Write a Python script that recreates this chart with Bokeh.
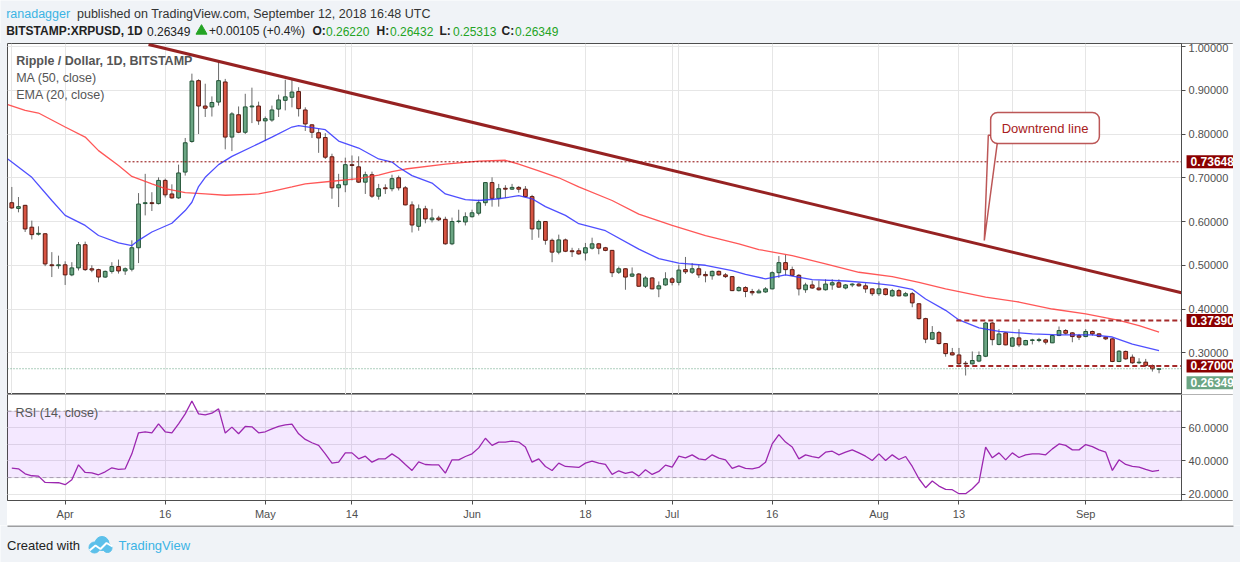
from bokeh.plotting import figure
from bokeh.layouts import column, row
from bokeh.models import (Range1d, FixedTicker, Grid, Label, BoxAnnotation, Div,
                          LinearAxis, NumeralTickFormatter, ColumnDataSource)
from bokeh.embed import file_html
from bokeh.resources import INLINE
from bokeh.core.properties import value

FONT = "Liberation Sans"
PAGE_BG = "#f0f3f7"
FRAME = "#4d4d4d"
GRID = "#e6e6e6"
AXIS_TXT = "#4f4f4f"
UP_FILL, UP_LINE = "#6ba583", "#225437"
DOWN_FILL, DOWN_LINE = "#d75442", "#5b1a13"
TREND = "#8b0a0a"

# daily candles XRP/USD, index 0 = 2018-03-24 ... index 172 = 2018-09-12
opens = [0.643, 0.630, 0.637, 0.587, 0.571, 0.572, 0.501, 0.499, 0.501, 0.478,
         0.494, 0.547, 0.492, 0.490, 0.473, 0.486, 0.497, 0.487, 0.491, 0.540,
         0.641, 0.643, 0.641, 0.694, 0.663, 0.654, 0.713, 0.783, 0.922, 0.864,
         0.862, 0.873, 0.919, 0.793, 0.844, 0.804, 0.862, 0.864, 0.830, 0.832,
         0.857, 0.877, 0.884, 0.897, 0.855, 0.821, 0.803, 0.792, 0.748, 0.677,
         0.684, 0.730, 0.725, 0.690, 0.707, 0.658, 0.677, 0.675, 0.700, 0.677,
         0.638, 0.589, 0.629, 0.604, 0.608, 0.605, 0.549, 0.600, 0.599, 0.611,
         0.619, 0.643, 0.689, 0.653, 0.676, 0.674, 0.678, 0.674, 0.657, 0.583,
         0.600, 0.557, 0.530, 0.558, 0.533, 0.533, 0.528, 0.539, 0.549, 0.540,
         0.534, 0.484, 0.492, 0.475, 0.480, 0.452, 0.471, 0.446, 0.455, 0.469,
         0.461, 0.490, 0.484, 0.492, 0.479, 0.476, 0.486, 0.478, 0.474, 0.442,
         0.449, 0.440, 0.437, 0.439, 0.446, 0.483, 0.506, 0.490, 0.477, 0.444,
         0.455, 0.448, 0.444, 0.455, 0.460, 0.448, 0.455, 0.457, 0.453, 0.446,
         0.435, 0.446, 0.430, 0.442, 0.430, 0.435, 0.412, 0.378, 0.331, 0.346,
         0.321, 0.300, 0.295, 0.276, 0.2747, 0.281, 0.292, 0.368, 0.319, 0.3455,
         0.315, 0.334, 0.318, 0.328, 0.328, 0.3295, 0.3227, 0.3394, 0.3508, 0.3455,
         0.339, 0.337, 0.3486, 0.3432, 0.3356, 0.3318, 0.280, 0.303, 0.2899, 0.277,
         0.2785, 0.2709, 0.26220]
highs = [0.679, 0.656, 0.638, 0.602, 0.589, 0.573, 0.530, 0.522, 0.509, 0.507,
         0.553, 0.554, 0.500, 0.492, 0.488, 0.507, 0.513, 0.495, 0.557, 0.665,
         0.709, 0.667, 0.701, 0.698, 0.685, 0.730, 0.791, 0.938, 0.925, 0.915,
         0.886, 0.964, 0.926, 0.850, 0.863, 0.892, 0.906, 0.874, 0.840, 0.865,
         0.890, 0.924, 0.924, 0.907, 0.861, 0.822, 0.812, 0.802, 0.755, 0.709,
         0.746, 0.751, 0.749, 0.714, 0.714, 0.686, 0.685, 0.707, 0.705, 0.681,
         0.646, 0.639, 0.636, 0.629, 0.613, 0.611, 0.609, 0.627, 0.621, 0.627,
         0.650, 0.690, 0.701, 0.686, 0.683, 0.686, 0.681, 0.681, 0.661, 0.604,
         0.601, 0.561, 0.570, 0.561, 0.540, 0.539, 0.551, 0.563, 0.551, 0.542,
         0.535, 0.497, 0.493, 0.495, 0.482, 0.475, 0.473, 0.463, 0.484, 0.473,
         0.501, 0.519, 0.505, 0.502, 0.486, 0.488, 0.488, 0.482, 0.475, 0.452,
         0.452, 0.446, 0.446, 0.450, 0.486, 0.521, 0.524, 0.497, 0.480, 0.460,
         0.465, 0.465, 0.468, 0.468, 0.468, 0.457, 0.459, 0.460, 0.459, 0.447,
         0.463, 0.447, 0.446, 0.446, 0.439, 0.439, 0.413, 0.380, 0.361, 0.350,
         0.322, 0.311, 0.311, 0.281, 0.303, 0.303, 0.370, 0.370, 0.354, 0.347,
         0.336, 0.354, 0.3295, 0.332, 0.334, 0.332, 0.341, 0.360, 0.354, 0.347,
         0.343, 0.354, 0.3508, 0.3447, 0.337, 0.333, 0.306, 0.305, 0.296, 0.2876,
         0.286, 0.2732, 0.26432]
lows = [0.629, 0.621, 0.576, 0.559, 0.568, 0.498, 0.473, 0.492, 0.455, 0.475,
        0.488, 0.487, 0.484, 0.461, 0.471, 0.481, 0.481, 0.478, 0.486, 0.505,
        0.614, 0.624, 0.639, 0.655, 0.652, 0.652, 0.705, 0.780, 0.800, 0.839,
        0.840, 0.865, 0.765, 0.761, 0.802, 0.800, 0.825, 0.821, 0.784, 0.828,
        0.839, 0.854, 0.861, 0.840, 0.807, 0.791, 0.757, 0.743, 0.652, 0.633,
        0.667, 0.694, 0.688, 0.663, 0.654, 0.650, 0.663, 0.669, 0.671, 0.637,
        0.575, 0.579, 0.596, 0.598, 0.601, 0.547, 0.546, 0.596, 0.591, 0.609,
        0.614, 0.636, 0.634, 0.634, 0.654, 0.672, 0.666, 0.655, 0.558, 0.563,
        0.547, 0.507, 0.525, 0.530, 0.519, 0.524, 0.511, 0.536, 0.525, 0.532,
        0.473, 0.480, 0.444, 0.473, 0.451, 0.448, 0.445, 0.427, 0.453, 0.454,
        0.454, 0.480, 0.480, 0.471, 0.461, 0.467, 0.476, 0.471, 0.441, 0.440,
        0.427, 0.431, 0.436, 0.437, 0.445, 0.471, 0.477, 0.475, 0.431, 0.437,
        0.446, 0.442, 0.442, 0.444, 0.448, 0.445, 0.450, 0.451, 0.437, 0.430,
        0.430, 0.431, 0.428, 0.429, 0.429, 0.404, 0.376, 0.322, 0.330, 0.319,
        0.291, 0.294, 0.271, 0.248, 0.273, 0.2785, 0.290, 0.317, 0.317, 0.317,
        0.314, 0.313, 0.317, 0.319, 0.324, 0.319, 0.322, 0.338, 0.3417, 0.324,
        0.329, 0.3356, 0.339, 0.3356, 0.329, 0.2785, 0.2785, 0.284, 0.2747, 0.2747,
        0.2671, 0.257, 0.25313]
closes = [0.631, 0.634, 0.583, 0.570, 0.573, 0.503, 0.499, 0.501, 0.478, 0.494,
          0.547, 0.490, 0.489, 0.473, 0.486, 0.497, 0.487, 0.492, 0.540, 0.640,
          0.643, 0.641, 0.694, 0.661, 0.654, 0.711, 0.780, 0.921, 0.864, 0.859,
          0.872, 0.922, 0.793, 0.846, 0.804, 0.862, 0.864, 0.830, 0.835, 0.855,
          0.878, 0.885, 0.896, 0.858, 0.823, 0.804, 0.791, 0.747, 0.677, 0.684,
          0.730, 0.728, 0.690, 0.707, 0.658, 0.675, 0.675, 0.698, 0.677, 0.638,
          0.592, 0.629, 0.606, 0.608, 0.604, 0.549, 0.600, 0.601, 0.611, 0.620,
          0.643, 0.689, 0.653, 0.675, 0.674, 0.678, 0.674, 0.657, 0.583, 0.600,
          0.557, 0.530, 0.558, 0.532, 0.531, 0.526, 0.540, 0.549, 0.539, 0.534,
          0.483, 0.492, 0.473, 0.480, 0.452, 0.471, 0.446, 0.453, 0.469, 0.461,
          0.489, 0.485, 0.492, 0.478, 0.476, 0.486, 0.478, 0.474, 0.442, 0.449,
          0.440, 0.437, 0.441, 0.446, 0.483, 0.506, 0.490, 0.477, 0.446, 0.455,
          0.448, 0.444, 0.457, 0.460, 0.450, 0.455, 0.457, 0.453, 0.446, 0.435,
          0.446, 0.433, 0.442, 0.430, 0.435, 0.414, 0.378, 0.331, 0.346, 0.321,
          0.298, 0.295, 0.275, 0.2747, 0.2823, 0.2937, 0.368, 0.330, 0.343, 0.318,
          0.334, 0.318, 0.328, 0.3295, 0.330, 0.3242, 0.3394, 0.3508, 0.3447, 0.337,
          0.3356, 0.3486, 0.3432, 0.337, 0.3318, 0.2801, 0.3036, 0.2861, 0.277, 0.2785,
          0.2709, 0.2633, 0.26349]

# MA (50) and EMA (20) at candle positions
ma_idx = [-0.6, 2, 4, 8, 11, 13, 16, 18, 21, 23, 26, 29, 32, 37, 39, 42, 44, 48, 52,
          55, 57, 59, 65, 70, 74, 76, 79, 82, 85, 90, 94, 99, 104, 109, 112, 117,
          122, 127, 132, 136, 140, 146, 151, 156, 161, 166, 169, 172]
ma_val = [0.867, 0.854, 0.848, 0.816, 0.793, 0.762, 0.728, 0.703, 0.686, 0.675, 0.666,
          0.663, 0.660, 0.663, 0.669, 0.679, 0.686, 0.692, 0.698, 0.706, 0.714, 0.720,
          0.731, 0.738, 0.740, 0.731, 0.716, 0.700, 0.679, 0.648, 0.617, 0.591, 0.568,
          0.549, 0.536, 0.522, 0.503, 0.484, 0.474, 0.461, 0.446, 0.427, 0.416, 0.400,
          0.389, 0.374, 0.362, 0.347]
ema_idx = [-0.6, 3, 6, 8, 11, 13, 16, 18, 19, 21, 24, 26, 27, 28, 29, 31, 33, 37, 39,
           42, 43, 47, 49, 52, 55, 57, 58, 60, 63, 65, 68, 70, 73, 76, 78, 80, 83, 85,
           89, 94, 97, 100, 104, 108, 110, 113, 116, 120, 125, 129, 132, 135, 137,
           140, 142, 145, 148, 153, 157, 162, 165, 168, 172]
ema_val = [0.743, 0.701, 0.648, 0.614, 0.591, 0.568, 0.551, 0.545, 0.557, 0.576, 0.596,
           0.625, 0.644, 0.680, 0.701, 0.730, 0.749, 0.778, 0.793, 0.816, 0.819, 0.810,
           0.784, 0.768, 0.743, 0.736, 0.724, 0.705, 0.688, 0.663, 0.650, 0.648, 0.652,
           0.659, 0.652, 0.634, 0.614, 0.595, 0.579, 0.537, 0.515, 0.505, 0.500, 0.488,
           0.479, 0.469, 0.478, 0.467, 0.464, 0.459, 0.454, 0.445, 0.423, 0.397, 0.375,
           0.357, 0.349, 0.343, 0.341, 0.341, 0.336, 0.320, 0.305]

# RSI (14) per candle
rsi = [35.7, 35.3, 32.3, 31.1, 30.9, 27.1, 27.0, 26.9, 25.7, 28.7,
       37.7, 33.1, 32.9, 31.7, 33.5, 35.9, 34.9, 35.3, 44.3, 57.0,
       57.6, 57.0, 62.4, 57.6, 57.0, 62.4, 68.4, 76.1, 68.4, 67.8,
       68.8, 71.4, 56.8, 60.4, 56.4, 60.8, 60.6, 57.0, 57.6, 59.4,
       60.8, 61.8, 62.2, 56.4, 53.0, 51.0, 49.4, 44.3, 38.7, 39.3,
       44.9, 44.9, 41.3, 42.9, 39.3, 41.3, 41.3, 44.3, 41.7, 37.9,
       34.3, 39.5, 37.9, 37.7, 37.7, 32.7, 40.7, 40.7, 42.7, 44.3,
       47.9, 53.7, 49.4, 51.4, 51.4, 52.0, 51.4, 48.4, 39.3, 41.3,
       36.7, 34.3, 38.7, 36.7, 36.5, 36.1, 38.7, 39.9, 38.7, 37.9,
       31.9, 34.1, 32.5, 33.5, 30.9, 34.7, 31.9, 33.7, 37.5, 36.3,
       42.9, 41.9, 43.7, 41.3, 40.7, 43.7, 41.7, 40.7, 35.5, 37.1,
       35.5, 35.3, 36.1, 39.3, 50.3, 55.9, 51.4, 48.4, 41.3, 43.7,
       42.7, 41.9, 45.3, 45.9, 43.7, 45.3, 46.7, 44.9, 42.9, 40.3,
       44.3, 40.3, 43.7, 40.9, 42.7, 36.7, 29.3, 23.9, 27.9, 24.9,
       22.9, 22.7, 20.3, 20.3, 23.3, 27.3, 48.4, 41.9, 44.9, 40.7,
       44.9, 42.1, 43.7, 44.3, 44.3, 43.7, 47.3, 50.3, 49.4, 46.7,
       46.7, 49.9, 48.7, 46.7, 45.3, 34.3, 40.7, 37.9, 36.7, 36.3,
       34.9, 33.7, 34.3]

date_ticks = [8, 23, 38, 51, 69, 86, 99, 114, 130, 142, 161]
date_labels = ["Apr", "16", "May", "14", "Jun", "18", "Jul", "16", "Aug", "13", "Sep"]
price_ticks = [0.3, 0.4, 0.5, 0.6, 0.7, 0.8, 0.9, 1.0]
rsi_ticks = [20, 40, 60]

# downtrend line end points (candle index, price)
trend_x = [20.5, 175.37]
trend_y = [1.0046, 0.4370]
resistance = 0.73648
range_top = 0.37390
range_bottom = 0.27000

X0, X1, XEND = -0.645, 175.37, 183.16   # frame left, price-axis line, outer border
PY0, PY1 = 0.2046, 1.0069
RY0, RY1 = 16.2, 80.06


def bare(fig):
    fig.xgrid.visible = False
    fig.ygrid.visible = False


def pad(h):
    return Div(text="", width=7, height=h, margin=0, styles={"background-color": PAGE_BG})


def style_axis(ax):
    ax.major_label_text_font = FONT
    ax.major_label_text_font_size = "11px"
    ax.major_label_text_color = AXIS_TXT
    ax.major_tick_out = 4
    ax.major_tick_in = 0
    ax.minor_tick_line_color = None
    ax.major_label_standoff = 3
    ax.axis_line_color = FRAME
    ax.major_tick_line_color = FRAME


def price_axis(fig, ticks, fmt):
    ax = LinearAxis(ticker=FixedTicker(ticks=ticks), formatter=NumeralTickFormatter(format=fmt),
                    fixed_location=X1)
    style_axis(ax)
    fig.add_layout(ax, "right")


# ---------------- header ----------------
header = figure(width=1240, height=43, x_range=Range1d(0, 1240), y_range=Range1d(43, 0),
                output_backend="svg", toolbar_location=None, x_axis_location=None,
                y_axis_location=None, min_border=0, outline_line_color=None,
                background_fill_color=PAGE_BG, border_fill_color=PAGE_BG, margin=0)
bare(header)


def htext(x, y, s, color="#222222", style="normal", size="12px"):
    header.text(x=[x], y=[y], text=[s], text_color=color, text_font=value(FONT),
                text_font_size=size, text_font_style=style,
                text_baseline="middle", text_align="left")


GREEN_TXT = "#24a324"
htext(5.7, 13, "ranadagger", color="#3bb3e4", size="12.5px")
htext(76.5, 13, "published on TradingView.com, September 12, 2018 16:48 UTC",
      color="#333333", size="12.5px")
htext(5.7, 30.5, "BITSTAMP:XRPUSD, 1D", style="bold")
htext(146.5, 30.5, f"{closes[-1]:.5f}")
header.scatter([201], [30.5], marker="triangle", size=11, color=GREEN_TXT)
htext(208.5, 30.5, "+0.00105 (+0.4%)")
for lx, key, val in [(312, "O:", opens[-1]), (376, "H:", highs[-1]),
                     (439, "L:", lows[-1]), (501, "C:", closes[-1])]:
    htext(lx, 30.5, key, style="bold")
    htext(lx + 13.5, 30.5, f"{val:.5f}", color=GREEN_TXT)

# ---------------- main price panel ----------------
p = figure(width=1226, height=351, x_range=Range1d(X0, XEND), y_range=Range1d(PY0, PY1),
           output_backend="svg", toolbar_location=None, x_axis_location=None,
           y_axis_location=None, min_border=0, outline_line_color=FRAME,
           background_fill_color="white", border_fill_color="white", margin=0)
p.add_layout(Grid(dimension=1, ticker=FixedTicker(ticks=price_ticks), grid_line_color=GRID))
p.add_layout(Grid(dimension=0, ticker=FixedTicker(ticks=date_ticks), grid_line_color=GRID))

idx = list(range(len(closes)))
up = [c >= o for o, c in zip(opens, closes)]
src = ColumnDataSource(dict(
    x=idx, high=highs, low=lows,
    top=[max(o, c) for o, c in zip(opens, closes)],
    bottom=[min(o, c) for o, c in zip(opens, closes)],
    fill=[UP_FILL if u else DOWN_FILL for u in up],
    line=[UP_LINE if u else DOWN_LINE for u in up],
))
p.segment(x0="x", y0="low", x1="x", y1="high", source=src, line_color="#6a6a6a", line_width=1)
p.vbar(x="x", width=0.56, top="top", bottom="bottom", source=src,
       fill_color="fill", line_color="line", line_width=1)
# price-scale strip
p.quad(left=[X1], right=[XEND], bottom=[PY0], top=[PY1], fill_color="white", line_color=None)

p.line(ma_idx, ma_val, line_color="#ff3a3a", line_width=1.3, line_alpha=0.85)
p.line(ema_idx, ema_val, line_color="#3030ff", line_width=1.3, line_alpha=0.85)

# levels
p.segment(x0=[16.9], y0=[resistance], x1=[X1], y1=[resistance],
          line_color="#8b0000", line_width=1, line_dash="2 2")
p.segment(x0=[141.6], y0=[range_top], x1=[X1], y1=[range_top],
          line_color="#a52a2a", line_width=2, line_dash="5 3")
p.segment(x0=[140.4], y0=[range_bottom], x1=[X1], y1=[range_bottom],
          line_color="#a52a2a", line_width=2, line_dash="5 3")
p.segment(x0=[X0], y0=[closes[-1]], x1=[X1], y1=[closes[-1]],
          line_color="#5e9e7c", line_width=1, line_dash="1 2")

# downtrend line
p.line(trend_x, trend_y, line_color=TREND, line_width=3, line_alpha=0.9)

# callout
p.patch([146.4, 147.9, 145.8], [0.797, 0.797, 0.5566], fill_color="white",
        line_color="#b03a3a", line_width=1.5, line_alpha=0.85)
p.add_layout(Label(x=154.9, y=0.8137, text="Downtrend line", text_align="center",
                   text_baseline="middle", text_color="#a82020", text_font=FONT,
                   text_font_size="13px", background_fill_color="white",
                   border_line_color="#b03a3a", border_line_width=1.5,
                   border_line_alpha=0.85, border_radius=7, padding=(11, 8)))

# legend texts
for ty, txt, st in [(0.9664, "Ripple / Dollar, 1D, BITSTAMP", "bold"),
                    (0.9275, "MA (50, close)", "normal"),
                    (0.8896, "EMA (20, close)", "normal")]:
    p.add_layout(Label(x=0.66, y=ty, text=txt, text_font=FONT, text_font_size="12.5px",
                       text_font_style=st, text_color="#555555", text_baseline="middle"))

price_axis(p, price_ticks, "0.00000")

# price tags on the scale
for lvl in [resistance, range_top, range_bottom]:
    p.add_layout(Label(x=X1, y=lvl, text=f"{lvl:.5f}", x_offset=5, text_font=FONT,
                       text_font_size="12px", text_font_style="bold", text_color="white",
                       text_baseline="middle", background_fill_color="#8b0000",
                       padding=(4, 2)))
p.add_layout(Label(x=X1, y=closes[-1], y_offset=-14, text=f"{closes[-1]:.5f}", x_offset=5,
                   text_font=FONT, text_font_size="12px", text_font_style="bold",
                   text_color="white", text_baseline="middle",
                   background_fill_color="#6ba583", padding=(4, 2)))

# ---------------- RSI panel ----------------
r = figure(width=1226, height=131, x_range=p.x_range, y_range=Range1d(RY0, RY1),
           output_backend="svg", toolbar_location=None, x_axis_location="below",
           y_axis_location=None, min_border=0, min_border_bottom=25,
           outline_line_color=FRAME, background_fill_color="white", border_fill_color="white",
           margin=0)
r.xaxis.ticker = FixedTicker(ticks=date_ticks)
r.xaxis.major_label_overrides = {t: lab for t, lab in zip(date_ticks, date_labels)}
r.xaxis.bounds = (X0, X1)
style_axis(r.xaxis[0])
r.xgrid.grid_line_color = GRID
r.add_layout(Grid(dimension=1, ticker=FixedTicker(ticks=rsi_ticks), grid_line_color=GRID))

r.add_layout(BoxAnnotation(bottom=30, top=70, fill_color="#8000ff", fill_alpha=0.09,
                           line_color=None, level="underlay"))
r.quad(left=[X1], right=[XEND], bottom=[RY0], top=[RY1], fill_color="white", line_color=None)
r.segment(x0=[X0, X0], y0=[70, 30], x1=[X1, X1], y1=[70, 30], line_color="#a69cb0",
          line_width=1, line_dash="4 3")
r.line(idx, rsi, line_color="#9c27b0", line_width=1.3)
r.add_layout(Label(x=0.55, y=68.8, text="RSI (14, close)", text_font=FONT,
                   text_font_size="12.5px", text_color="#555555", text_baseline="middle"))
price_axis(r, rsi_ticks, "0.0000")

# ---------------- footer ----------------
footer = figure(width=1240, height=37, x_range=Range1d(0, 1240), y_range=Range1d(562, 525),
                output_backend="svg", toolbar_location=None, x_axis_location=None,
                y_axis_location=None, min_border=0, outline_line_color=None,
                background_fill_color=PAGE_BG, border_fill_color=PAGE_BG, margin=0)
bare(footer)
footer.line([7, 1233], [525.5, 525.5], line_color=FRAME, line_width=1)
footer.text(x=[6.5], y=[545], text=["Created with"], text_color="#222222", text_font=value(FONT),
            text_font_size="13px", text_baseline="middle")
footer.scatter([94, 101.5, 107], [547, 543, 547.5], size=[11, 14, 9], color="#5cc0ea")
footer.line([89, 95, 100, 106, 112], [550, 545, 548.5, 542.5, 546], line_color="white",
            line_width=2)
footer.text(x=[118], y=[545], text=["TradingView"], text_color="#3cb4e5", text_font=value(FONT),
            text_font_size="13px", text_baseline="middle")

layout = column(header, row(pad(351), p, pad(351), margin=0, spacing=0),
                row(pad(131), r, pad(131), margin=0, spacing=0), footer, margin=0, spacing=0)
open("out.html", "w").write(file_html(layout, INLINE))
